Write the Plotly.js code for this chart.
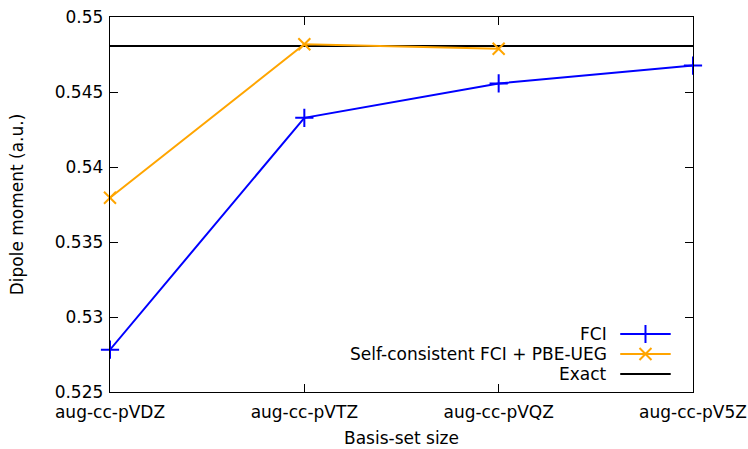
<!DOCTYPE html>
<html><head><meta charset="utf-8">
<script src="https://cdn.plot.ly/plotly-3.0.1.min.js"></script>
<style>html,body{margin:0;padding:0;background:#fff}#c{width:748px;height:449px}</style>
</head><body><div id="c"></div>
<script>
const basisSets = ["aug-cc-pVDZ", "aug-cc-pVTZ", "aug-cc-pVQZ", "aug-cc-pV5Z"];
const fciValues = [0.52782, 0.54328, 0.54557, 0.54676];
const pbeuegBasis = ["aug-cc-pVDZ", "aug-cc-pVTZ", "aug-cc-pVQZ"];
const pbeuegValues = [0.53795, 0.54818, 0.54788];
const exactValue = 0.54807;
const yTicks = [0.525, 0.53, 0.535, 0.54, 0.545, 0.55];
const yTickLabels = ["0.525", "0.53", "0.535", "0.54", "0.545", "0.55"];
const legendNames = ["FCI", "Self-consistent FCI + PBE-UEG", "Exact"];

const idx = b => basisSets.indexOf(b);
const F = "DejaVu Sans, sans-serif";
const BLUE = "#0000ff", ORANGE = "#ffa500", BLACK = "#000000";

const traces = [
  {x: [0, basisSets.length - 1], y: [exactValue, exactValue], mode: "lines",
   line: {color: BLACK, width: 2}, showlegend: false, hoverinfo: "skip"},
  {x: pbeuegBasis.map(idx), y: pbeuegValues, mode: "lines+markers",
   line: {color: ORANGE, width: 2}, cliponaxis: false,
   marker: {symbol: "x-thin-open", size: 12, color: ORANGE, line: {color: ORANGE, width: 2}},
   showlegend: false},
  {x: basisSets.map((b, i) => i), y: fciValues, mode: "lines+markers",
   line: {color: BLUE, width: 2}, cliponaxis: false,
   marker: {symbol: "cross-thin-open", size: 13, color: BLUE, line: {color: BLUE, width: 2}},
   showlegend: false}
];

// gnuplot-style legend (text on left, sample on right), drawn on a hidden overlay axis
const legDomain = [0, 0.2];
const legY = [0.773, 0.507, 0.24];
const legColors = [BLUE, ORANGE, BLACK];
const legSymbols = ["cross-thin-open", "x-thin-open", null];
legendNames.forEach((n, i) => {
  traces.push({x: [0, 1], y: [legY[i], legY[i]], xaxis: "x2", yaxis: "y2",
    mode: "lines", line: {color: legColors[i], width: 2}, showlegend: false, hoverinfo: "skip"});
  if (legSymbols[i]) traces.push({x: [0.5], y: [legY[i]], xaxis: "x2", yaxis: "y2",
    mode: "markers", marker: {symbol: legSymbols[i], size: i === 0 ? 13 : 12, color: legColors[i],
    line: {color: legColors[i], width: 2}}, showlegend: false, hoverinfo: "skip"});
});
const xDom2 = [0.875, 0.962];
const annotations = legendNames.map((n, i) => ({
  xref: "paper", yref: "paper", x: xDom2[0], xshift: -11,
  y: legDomain[0] + legY[i] * (legDomain[1] - legDomain[0]), xanchor: "right", yanchor: "middle",
  text: n, showarrow: false, font: {family: F, size: 17, color: BLACK}
}));

const layout = {
  width: 748, height: 449,
  margin: {l: 110, r: 55, t: 17, b: 57},
  paper_bgcolor: "#fff", plot_bgcolor: "#fff",
  font: {family: F, size: 17, color: BLACK},
  showlegend: false,
  xaxis: {range: [0, basisSets.length - 1], tickvals: basisSets.map((b, i) => i), ticktext: basisSets,
    ticks: "inside", ticklen: 8, tickwidth: 1, tickcolor: BLACK, mirror: "ticks",
    showline: true, linecolor: BLACK, linewidth: 1.3, showgrid: false, zeroline: false,
    tickfont: {family: F, size: 17}, ticklabelstandoff: 4,
    title: {text: "Basis-set size", font: {family: F, size: 17}, standoff: 11}},
  yaxis: {range: [0.525, 0.55], tickvals: yTicks, ticktext: yTickLabels,
    ticks: "inside", ticklen: 8, tickwidth: 1, tickcolor: BLACK, mirror: "ticks",
    showline: true, linecolor: BLACK, linewidth: 1.3, showgrid: false, zeroline: false,
    tickfont: {family: F, size: 17}, ticklabelstandoff: 2,
    title: {text: "Dipole moment (a.u.)", font: {family: F, size: 17}, standoff: 26}},
  xaxis2: {domain: xDom2, range: [0, 1], visible: false, anchor: "y2", fixedrange: true},
  yaxis2: {domain: legDomain, range: [0, 1], visible: false, anchor: "x2", fixedrange: true},
  annotations: annotations
};
Plotly.newPlot("c", traces, layout, {staticPlot: true});
</script></body></html>
